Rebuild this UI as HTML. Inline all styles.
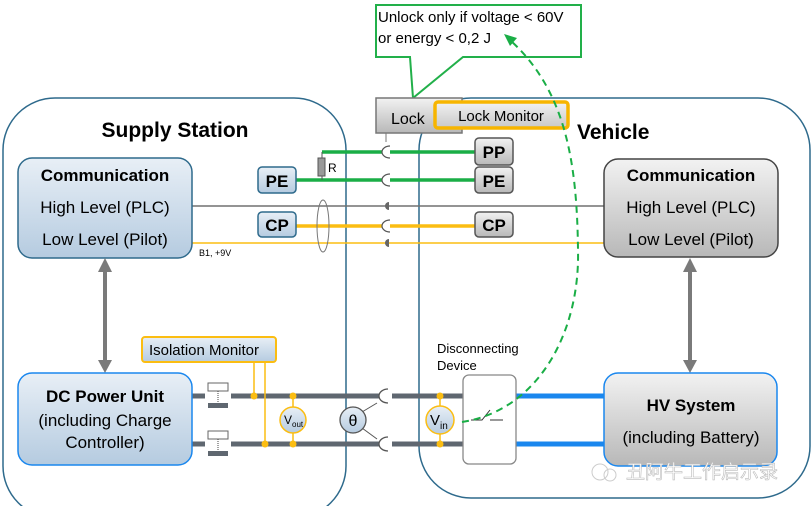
<!DOCTYPE html>
<html><head><meta charset="utf-8"><style>
body{margin:0;background:#fff}
svg{display:block;font-family:"Liberation Sans",Arial,sans-serif}
</style></head><body>
<svg width="812" height="506" viewBox="0 0 812 506" xmlns="http://www.w3.org/2000/svg">
<defs>
<linearGradient id="bl" x1="0" y1="0" x2="0" y2="1"><stop offset="0" stop-color="#e8eff6"/><stop offset="1" stop-color="#b5cbe0"/></linearGradient>
<linearGradient id="gr" x1="0" y1="0" x2="0" y2="1"><stop offset="0" stop-color="#f2f2f2"/><stop offset="1" stop-color="#b8b8b8"/></linearGradient>
<linearGradient id="yl" x1="0" y1="0" x2="0" y2="1"><stop offset="0" stop-color="#f2f2f2"/><stop offset="1" stop-color="#c8c8c8"/></linearGradient>
</defs>
<rect x="3" y="98" width="343" height="420" rx="52" fill="none" stroke="#2e6a8c" stroke-width="1.5"/>
<rect x="419" y="98" width="391" height="400" rx="52" fill="none" stroke="#2e6a8c" stroke-width="1.5"/>
<text x="175" y="137" font-size="21" font-weight="bold" text-anchor="middle">Supply Station</text>
<text x="577" y="139" font-size="21" font-weight="bold">Vehicle</text>

<polygon points="376,5 581,5 581,57 463,57 413,98 410,57 376,57" fill="#fff" stroke="#22b04a" stroke-width="2"/>
<text x="378" y="22" font-size="15">Unlock only if voltage &lt; 60V</text>
<text x="378" y="43" font-size="15">or energy &lt; 0,2 J</text>

<rect x="376" y="98" width="86" height="35" fill="url(#gr)" stroke="#777" stroke-width="1.5"/>
<text x="391" y="124" font-size="16">Lock</text>
<line x1="386" y1="133" x2="386" y2="142" stroke="#777"/>
<rect x="435" y="102" width="133" height="26" rx="3" fill="url(#yl)" stroke="#f7b500" stroke-width="3.5"/>
<text x="501" y="121" font-size="15" text-anchor="middle">Lock Monitor</text>

<line x1="322" y1="152" x2="475" y2="152" stroke="#1aae46" stroke-width="3.5"/>
<line x1="322" y1="152" x2="322" y2="158" stroke="#555"/>
<rect x="318" y="158" width="7" height="18" fill="#999" stroke="#555"/>
<text x="328" y="172" font-size="12">R</text>
<line x1="296" y1="180" x2="475" y2="180" stroke="#1aae46" stroke-width="3.5"/>
<line x1="322" y1="176" x2="322" y2="180" stroke="#555"/>
<line x1="175" y1="206" x2="604" y2="206" stroke="#707070" stroke-width="1.5"/>
<line x1="296" y1="226" x2="475" y2="226" stroke="#fbbd12" stroke-width="3.5"/>
<line x1="175" y1="243" x2="604" y2="243" stroke="#fbbd12" stroke-width="1.5"/>
<text x="199" y="256" font-size="9">B1, +9V</text>
<ellipse cx="323" cy="226" rx="6" ry="26" fill="none" stroke="#777"/>
<g fill="#fff" stroke="#555" stroke-width="1.2">
<path d="M390,146 A8,6 0 0 0 390,158"/><path d="M390,174 A8,6 0 0 0 390,186"/>
<path d="M390,220 A8,6 0 0 0 390,232"/>
</g>
<path d="M389,202 A4,4 0 0 0 389,210 Z" fill="#666"/>
<path d="M389,239 A4,4 0 0 0 389,247 Z" fill="#666"/>

<g font-size="17" font-weight="bold" text-anchor="middle">
<rect x="258" y="167" width="38" height="26" rx="4" fill="url(#bl)" stroke="#2e6a8c" stroke-width="1.5"/><text x="277" y="187">PE</text>
<rect x="258" y="212" width="38" height="25" rx="4" fill="url(#bl)" stroke="#2e6a8c" stroke-width="1.5"/><text x="277" y="231">CP</text>
<rect x="475" y="138" width="38" height="27" rx="4" fill="url(#gr)" stroke="#555" stroke-width="1.5"/><text x="494" y="158">PP</text>
<rect x="475" y="167" width="38" height="26" rx="4" fill="url(#gr)" stroke="#555" stroke-width="1.5"/><text x="494" y="187">PE</text>
<rect x="475" y="212" width="38" height="25" rx="4" fill="url(#gr)" stroke="#555" stroke-width="1.5"/><text x="494" y="231">CP</text>
</g>

<rect x="18" y="158" width="174" height="100" rx="14" fill="url(#bl)" stroke="#2e6a8c" stroke-width="1.5"/>
<text x="105" y="181" font-size="17" font-weight="bold" text-anchor="middle">Communication</text>
<text x="105" y="213" font-size="17" text-anchor="middle">High Level (PLC)</text>
<text x="105" y="245" font-size="17" text-anchor="middle">Low Level (Pilot)</text>
<rect x="604" y="159" width="174" height="98" rx="14" fill="url(#gr)" stroke="#444" stroke-width="1.5"/>
<text x="691" y="181" font-size="17" font-weight="bold" text-anchor="middle">Communication</text>
<text x="691" y="213" font-size="17" text-anchor="middle">High Level (PLC)</text>
<text x="691" y="245" font-size="17" text-anchor="middle">Low Level (Pilot)</text>

<g fill="#7a7a7a">
<rect x="103" y="270" width="4" height="92"/>
<polygon points="98,272 112,272 105,258"/><polygon points="98,360 112,360 105,373"/>
<rect x="688" y="270" width="4" height="92"/>
<polygon points="683,272 697,272 690,258"/><polygon points="683,360 697,360 690,373"/>
</g>

<line x1="192" y1="396" x2="463" y2="396" stroke="#5f6770" stroke-width="5"/>
<line x1="192" y1="444" x2="463" y2="444" stroke="#5f6770" stroke-width="5"/>
<line x1="516" y1="396" x2="604" y2="396" stroke="#1a87ee" stroke-width="5"/>
<line x1="516" y1="444" x2="604" y2="444" stroke="#1a87ee" stroke-width="5"/>
<g>
<rect x="205" y="392" width="26" height="9" fill="#fff"/>
<rect x="208" y="383" width="20" height="8" fill="#fff" stroke="#666"/>
<line x1="218" y1="391" x2="218" y2="403" stroke="#444" stroke-dasharray="1,1"/>
<rect x="208" y="403" width="20" height="5" fill="#5f6770"/>
<rect x="205" y="440" width="26" height="9" fill="#fff"/>
<rect x="208" y="431" width="20" height="8" fill="#fff" stroke="#666"/>
<line x1="218" y1="439" x2="218" y2="451" stroke="#444" stroke-dasharray="1,1"/>
<rect x="208" y="451" width="20" height="5" fill="#5f6770"/>
</g>
<rect x="382" y="390" width="10" height="12" fill="#fff"/>
<rect x="382" y="438" width="10" height="12" fill="#fff"/>
<path d="M388,389 A9,7 0 0 0 388,403" fill="#fff" stroke="#555" stroke-width="1.3"/>
<path d="M388,437 A9,7 0 0 0 388,451" fill="#fff" stroke="#555" stroke-width="1.3"/>
<line x1="254" y1="362" x2="254" y2="396" stroke="#fbbd12" stroke-width="1.5"/>
<line x1="265" y1="362" x2="265" y2="444" stroke="#fbbd12" stroke-width="1.5"/>
<rect x="142" y="337" width="134" height="25" rx="3" fill="url(#bl)" stroke="#fbbd12" stroke-width="2"/>
<text x="204" y="355" font-size="15" text-anchor="middle">Isolation Monitor</text>
<g fill="#fbbd12">
<circle cx="254" cy="396" r="3.5"/><circle cx="265" cy="444" r="3.5"/>
<circle cx="293" cy="396" r="3.5"/><circle cx="293" cy="444" r="3.5"/>
<circle cx="440" cy="396" r="3.5"/><circle cx="440" cy="444" r="3.5"/>
</g>
<line x1="293" y1="396" x2="293" y2="444" stroke="#fbbd12" stroke-width="1.5"/>
<line x1="440" y1="396" x2="440" y2="444" stroke="#fbbd12" stroke-width="1.5"/>
<circle cx="293" cy="420" r="13" fill="url(#bl)" stroke="#fbbd12" stroke-width="1.5"/>
<text x="284" y="424" font-size="12">V<tspan font-size="8" dy="3">out</tspan></text>
<circle cx="440" cy="420" r="14" fill="url(#bl)" stroke="#fbbd12" stroke-width="1.5"/>
<text x="430" y="425" font-size="15">V<tspan font-size="10" dy="4">in</tspan></text>
<line x1="362" y1="412" x2="377" y2="403" stroke="#555"/>
<line x1="362" y1="428" x2="377" y2="439" stroke="#555"/>
<circle cx="353" cy="420" r="13" fill="url(#bl)" stroke="#555" stroke-width="1.3"/>
<text x="353" y="426" font-size="16" text-anchor="middle">θ</text>
<text x="437" y="353" font-size="13">Disconnecting</text>
<text x="437" y="370" font-size="13">Device</text>
<rect x="463" y="375" width="53" height="89" rx="6" fill="#fff" stroke="#888" stroke-width="1.3"/>
<polyline points="471,420 482,420 490,410" fill="none" stroke="#333"/>
<line x1="490" y1="420" x2="503" y2="420" stroke="#333"/>
<path d="M462,422 C540,410 580,330 578,250 C577,160 565,90 510,40" fill="none" stroke="#1aae46" stroke-width="2" stroke-dasharray="7,5"/>
<polygon points="504,34 517,38 510,46" fill="#1aae46"/>
<rect x="18" y="373" width="174" height="92" rx="14" fill="url(#bl)" stroke="#1a87ee" stroke-width="1.5"/>
<text x="105" y="402" font-size="17" font-weight="bold" text-anchor="middle">DC Power Unit</text>
<text x="105" y="426" font-size="17" text-anchor="middle">(including Charge</text>
<text x="105" y="448" font-size="17" text-anchor="middle">Controller)</text>
<rect x="604" y="373" width="173" height="93" rx="14" fill="url(#gr)" stroke="#1a87ee" stroke-width="1.5"/>
<text x="691" y="411" font-size="17" font-weight="bold" text-anchor="middle">HV System</text>
<text x="691" y="443" font-size="17" text-anchor="middle">(including Battery)</text>
<circle cx="600" cy="472" r="8" fill="none" stroke="#ccc"/>
<circle cx="610" cy="475" r="6" fill="none" stroke="#ccc"/>
<text x="626" y="478" font-size="19" fill="#fff" stroke="#bbb" stroke-width="0.6" font-family="Liberation Sans, Noto Sans CJK SC, sans-serif">丑阿牛工作启示录</text>
</svg>
</body></html>
